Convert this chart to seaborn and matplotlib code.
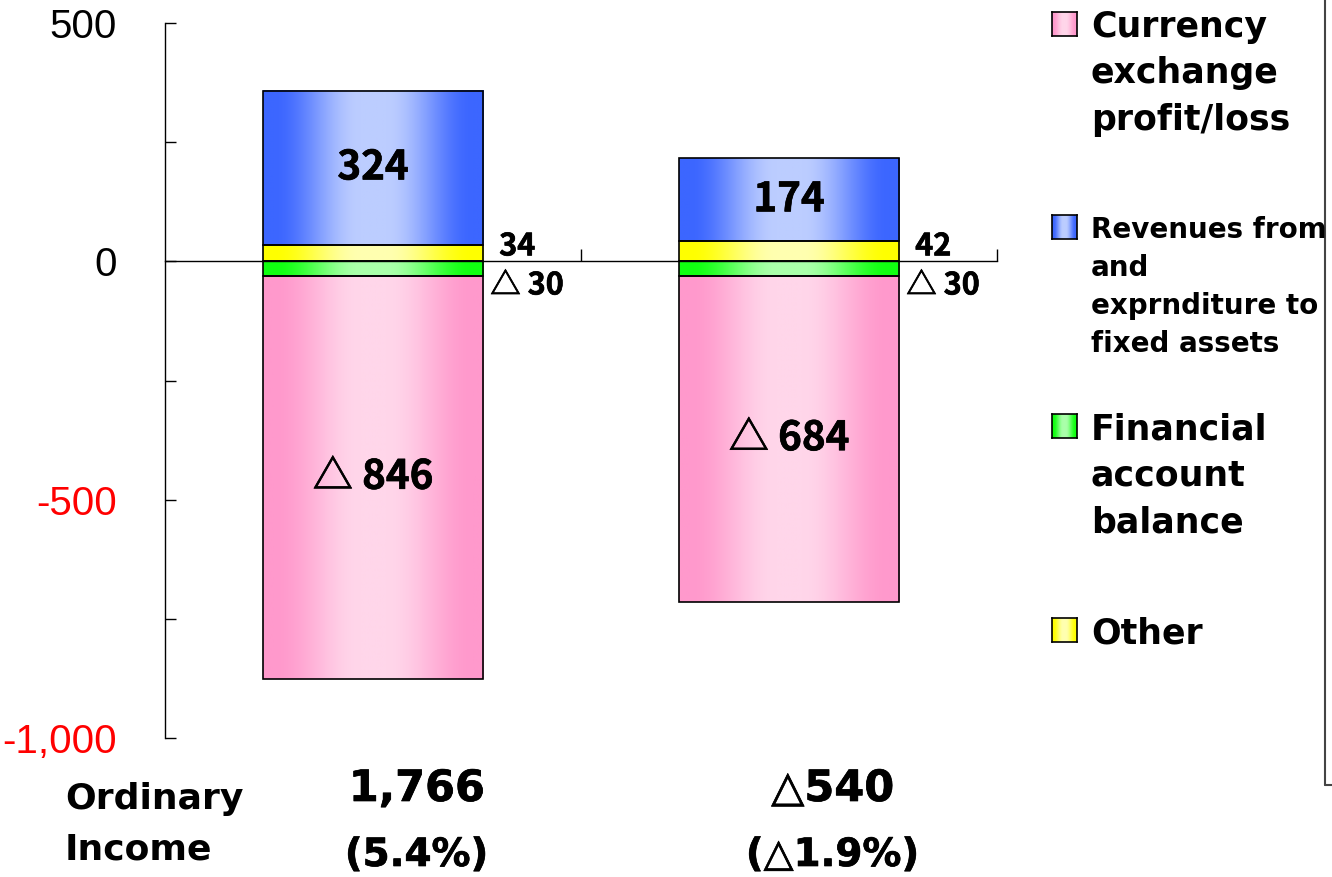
import numpy as np
import matplotlib
matplotlib.use("Agg")
import matplotlib.pyplot as plt
import matplotlib.patheffects as pe
import seaborn as sns
from matplotlib.colors import to_rgb
from matplotlib.lines import Line2D
from matplotlib.transforms import blended_transform_factory

# ---- data -------------------------------------------------------------
periods = ["Previous term", "Current term"]
currency_fx = [-846, -684]          # currency exchange profit/loss
fixed_assets = [324, 174]           # revenues from / expenditure to fixed assets
financial_balance = [-30, -30]      # financial account balance
other = [34, 42]                    # other
ordinary_income = [1766, -540]
income_ratio = [5.4, -1.9]

legend_labels = [
    "Currency\nexchange\nprofit/loss",
    "Revenues from\nand\nexprnditure to\nfixed assets",
    "Financial\naccount\nbalance",
    "Other",
]
y_ticks = [-1000, -500, 0, 500]
y_minor_ticks = [-750, -250, 250]

# ---- styling ----------------------------------------------------------
sns.set_style("white")
plt.rcParams["font.family"] = ["DejaVu Sans"]
plt.rcParams["axes.unicode_minus"] = False
plt.rcParams["text.color"] = "black"
plt.rcParams["xtick.color"] = "black"
plt.rcParams["ytick.color"] = "black"

W, H = 1332, 877
PINK = ("#ff99cc", "#ffd6ea")
BLUE = ("#3c66ff", "#bccdff")
GREEN = ("#11ff11", "#aaffaa")
YELLOW = ("#ffff00", "#ffffb0")
CJK = ["Noto Sans CJK JP", "DejaVu Sans"]
BAR_W = 0.53
HEAVY = [pe.withStroke(linewidth=0.5, foreground="black")]


def shade(edge, centre, n=256):
    """Horizontal ramp: saturated edges, pale middle."""
    u = np.linspace(0, 1, n)
    d = 1 - np.abs(2 * u - 1)
    t = np.clip((d - 0.1) / 0.78, 0, 1)
    t = t * t * (3 - 2 * t)
    e, c = np.array(to_rgb(edge)), np.array(to_rgb(centre))
    return (e + (c - e) * t[:, None])[None, :, :]


def delta(v, sep=" "):
    return f"{v:,}" if v >= 0 else f"△{sep}{abs(v):,}"


fig = plt.figure(figsize=(W / 100, H / 100), dpi=100)
ax = fig.add_axes([165 / W, 1 - 738 / H, 832 / W, 715 / H])

segments = [
    (other, [0, 0], YELLOW),
    (fixed_assets, other, BLUE),
    (financial_balance, [0, 0], GREEN),
    (currency_fx, financial_balance, PINK),
]

for values, base, (edge, centre) in segments:
    n0 = len(ax.patches)
    sns.barplot(x=periods, y=values, order=periods, bottom=base, width=BAR_W,
                color=edge, saturation=1, errorbar=None,
                edgecolor="black", linewidth=1.2, ax=ax)
    for p in ax.patches[n0:]:
        x0, y0, w, h = p.get_x(), p.get_y(), p.get_width(), p.get_height()
        ax.imshow(shade(edge, centre), extent=[x0, x0 + w, min(y0, y0 + h), max(y0, y0 + h)],
                  aspect="auto", interpolation="bilinear", zorder=1.5)
        p.set_facecolor("none")
        p.set_zorder(2)

# value labels inside the large segments
for i in range(len(periods)):
    ax.text(i, other[i] + fixed_assets[i] / 2, delta(fixed_assets[i]),
            ha="center", va="center", fontsize=29, fontweight="bold", family=CJK,
            zorder=5, path_effects=HEAVY)
    ax.text(i, financial_balance[i] + currency_fx[i] / 2, delta(currency_fx[i]),
            ha="center", va="center", fontsize=29, fontweight="bold", family=CJK,
            zorder=5, path_effects=HEAVY)
    right = i + BAR_W / 2
    ax.annotate(delta(other[i]), xy=(right, 0), xytext=(11.5, 4.3), textcoords="offset points",
                ha="left", va="baseline", fontsize=22, fontweight="bold", family=CJK,
                path_effects=HEAVY)
    ax.annotate(delta(financial_balance[i]), xy=(right, 0), xytext=(5, -5.8), textcoords="offset points",
                ha="left", va="top", fontsize=22, fontweight="bold", family=CJK,
                path_effects=HEAVY)

# axes
ax.set_xlim(-0.5, 1.5)
ax.set_ylim(-1000, 500)
ax.set_xlabel("")
ax.set_ylabel("")
for side in ("top", "right"):
    ax.spines[side].set_visible(False)
ax.spines["bottom"].set_position(("data", 0))
for side in ("left", "bottom"):
    ax.spines[side].set_color("black")
    ax.spines[side].set_linewidth(1.0)
    ax.spines[side].set_zorder(3)

ax.set_xticks([0.5, 1.5])
ax.tick_params(axis="x", bottom=True, direction="in", length=9, width=1.0,
               color="black", labelbottom=False)
ax.set_yticks(y_ticks)
ax.set_yticks(y_minor_ticks, minor=True)
ax.set_yticklabels([f"{v:,}" for v in y_ticks])
ax.tick_params(axis="y", which="both", left=True, direction="in", length=8, width=1.0, color="black")
ax.tick_params(axis="y", which="major", pad=34.5, labelsize=29, labelfontfamily="Liberation Sans")
for lbl, v in zip(ax.get_yticklabels(), y_ticks):
    lbl.set_color("red" if v < 0 else "black")

# ordinary income row beneath the axis
tr = blended_transform_factory(ax.transData, fig.transFigure)
for i in range(len(periods)):
    ax.text(i + 0.105, 1 - 789 / H, delta(ordinary_income[i], sep=""), transform=tr,
            ha="center", va="center", fontsize=31, fontweight="bold",
            family=CJK[::-1], path_effects=HEAVY)
    r = income_ratio[i]
    rtxt = f"({r:.1f}%)" if r >= 0 else f"(△{abs(r):.1f}%)"
    ax.text(i + 0.105, 1 - 855 / H, rtxt, transform=tr,
            ha="center", va="center", fontsize=28, fontweight="bold",
            family=CJK[::-1], path_effects=HEAVY)
fig.text(65 / W, 1 - 782 / H, "Ordinary\nIncome", ha="left", va="top",
         fontsize=26, fontweight="bold", linespacing=1.62)

# legend
legend_rows = [
    (PINK, 11, 25, 1.46),
    (BLUE, 217, 20, 1.45),
    (GREEN, 413, 25, 1.48),
    (YELLOW, 617, 25, 1.46),
]
for label, (colors, top, size, ls) in zip(legend_labels, legend_rows):
    cap = size * 100 / 72 * 0.73
    cy = top + cap / 2
    sw = fig.add_axes([1052 / W, 1 - (cy + 12) / H, 25 / W, 24 / H])
    sw.imshow(shade(*colors, n=64), aspect="auto", interpolation="bilinear")
    sw.set_xticks([])
    sw.set_yticks([])
    for s in sw.spines.values():
        s.set_color("black")
        s.set_linewidth(1.2)
    fig.text(1091 / W, 1 - (top - 1) / H, label, ha="left", va="top",
             fontsize=size, fontweight="bold", linespacing=ls)

# outer frame edge on the right
fig.add_artist(Line2D([1325 / W, 1325 / W], [1, 1 - 785 / H], transform=fig.transFigure,
                      color="#444444", lw=1.5))
fig.add_artist(Line2D([1325 / W, 1], [1 - 785 / H, 1 - 785 / H], transform=fig.transFigure,
                      color="#444444", lw=1.5))

fig.savefig("out.png", dpi=100)
